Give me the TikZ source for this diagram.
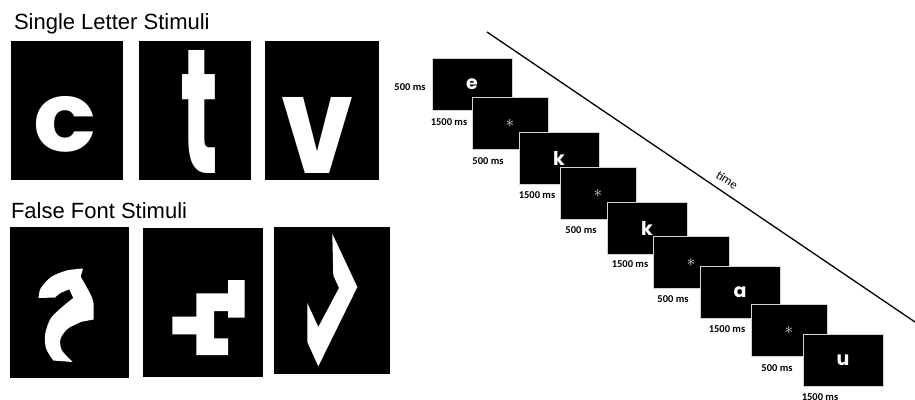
\documentclass[tikz,border=0pt]{standalone}
\usepackage{fontspec}
\setmainfont{Liberation Sans}
\newfontfamily\stimfont{Poppins}
\newfontfamily\labelfont{Carlito}

\begin{document}
\begin{tikzpicture}[x=1pt,y=-1pt,every node/.style={inner sep=0pt, outer sep=0pt},
  stimbox/.style={fill=black, anchor=north west},
  screen/.style={fill=black, draw=gray!35, line width=0.8pt, anchor=north west, minimum width=80, minimum height=52, text=white, font=\stimfont\bfseries\fontsize{19}{20}\selectfont},
  blank/.style={screen, minimum width=76, text=white!88!black, font=\fontsize{17}{18}\selectfont},
  dur/.style={font=\labelfont\bfseries\fontsize{10.5}{12}\selectfont},
  heading/.style={anchor=base west, font=\fontsize{22}{26}\selectfont}]

\useasboundingbox (0,0) rectangle (915,399);

% single letters
\node[heading] (slhead) at (14,29) {Single Letter Stimuli};
\node[stimbox, minimum width=112, minimum height=139] (sl1) at (11,41) {};
\node[stimbox, minimum width=112, minimum height=139] (sl2) at (139,41) {};
\node[stimbox, minimum width=114, minimum height=139] (sl3) at (265,41) {};
\node[text=white] (letc) at (65,124.5) {\stimfont\bfseries\resizebox{63pt}{55pt}{c}};
\node[text=white] (lett) at (199.5,111.5) {\stimfont\bfseries\resizebox{38pt}{123pt}{t}};
\node[text=white] (letv) at (318,135) {\stimfont\bfseries\resizebox{72pt}{76pt}{v}};

% false fonts
\node[heading] (ffhead) at (11,218) {False Font Stimuli};
\node[stimbox, minimum width=119, minimum height=151] (ff1) at (10,227) {};
\node[stimbox, minimum width=120, minimum height=149] (ff2) at (143,228) {};
\node[stimbox, minimum width=116, minimum height=147] (ff3) at (274,227) {};
\fill[white] plot[smooth] coordinates {(38.5,298) (40.7,288.3) (51,277) (66.7,270.5) (83,268.5)}
  -- plot[smooth] coordinates {(80.7,276.7) (90,293.3) (93.5,303.3) (93.5,319.5)}
  -- plot[smooth] coordinates {(81.7,321.7) (68.3,328.3) (60.7,338.3) (61.7,350) (72.7,362)}
  -- plot[smooth] coordinates {(53.3,360.5) (46,348.3) (45.3,333.3) (51,318) (63.3,306) (73.3,298)}
  -- plot[smooth] coordinates {(69.3,289.3) (60,293.3) (55,297.5)} -- cycle;
\fill[white] (228,280) -- (244.7,280) -- (244.7,317.7) -- (228,317.7) -- (228,311) -- (214,311)
  -- (214,338.3) -- (228,338.3) -- (228,355) -- (196.3,355) -- (196.3,334.3) -- (172.3,334.3)
  -- (172.3,316.7) -- (196.3,316.7) -- (196.3,293.3) -- (228,293.3) -- cycle;
\fill[white] (332.3,233.7) -- (333.3,275.3) -- (339,288) -- (318.3,327) -- (307.3,303)
  -- (307.3,342) -- (318.3,366.3) -- (357.3,287) -- cycle;

% trial sequence
\node[screen] (s1) at (432,58) {e};
\node[blank] (s2) at (472,97) {$\ast$};
\node[screen] (s3) at (519,132) {k};
\node[blank] (s4) at (560,167) {$\ast$};
\node[screen] (s5) at (607,202) {k};
\node[blank] (s6) at (653,236) {$\ast$};
\node[screen] (s7) at (700,266) {a};
\node[blank] (s8) at (751,304) {$\ast$};
\node[screen] (s9) at (803,334) {u};

\node[dur] (d0) at (410,87) {500 ms};
\node[dur] (d1) at (449,122) {1500 ms};
\node[dur] (d2) at (488,161) {500 ms};
\node[dur] (d3) at (537,195) {1500 ms};
\node[dur] (d4) at (581,230) {500 ms};
\node[dur] (d5) at (630,264) {1500 ms};
\node[dur] (d6) at (673,299) {500 ms};
\node[dur] (d7) at (727,329) {1500 ms};
\node[dur] (d8) at (777,368) {500 ms};
\node[dur] (d9) at (820,397) {1500 ms};

% time axis
\coordinate (tstart) at (487,32);
\coordinate (tend) at (915,322);
\draw[line width=1.3pt] (tstart) -- (tend);
\node[font=\labelfont\fontsize{12.5}{14}\selectfont, rotate=-34] (tlabel) at (727,180) {time};
\end{tikzpicture}
\end{document}
